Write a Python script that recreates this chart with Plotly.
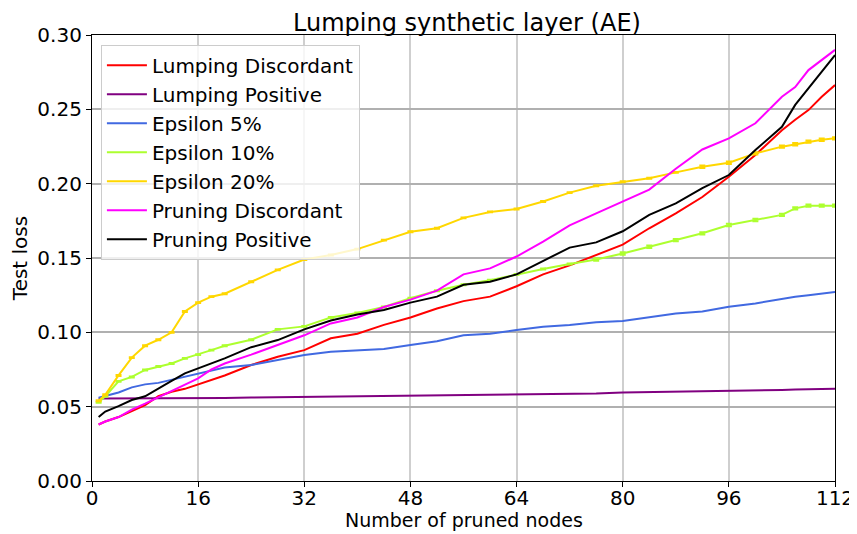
import plotly.graph_objects as go

nodes = [1, 2, 4, 6, 8, 10, 12, 14, 16, 18, 20, 24, 28, 32, 36, 40, 44, 48, 52, 56,
         60, 64, 68, 72, 76, 80, 84, 88, 92, 96, 100, 104, 106, 108, 110, 112]

lumping_discordant = [0.038, 0.040, 0.043, 0.047, 0.051, 0.057, 0.060, 0.062, 0.065, 0.068,
                      0.071, 0.078, 0.0836, 0.088, 0.096, 0.099, 0.105, 0.110, 0.116, 0.121,
                      0.124, 0.131, 0.139, 0.145, 0.152, 0.159, 0.170, 0.180, 0.191, 0.2047,
                      0.2193, 0.236, 0.243, 0.2495, 0.2585, 0.2663]
lumping_positive = [0.0555, 0.0555, 0.0555, 0.0555, 0.0556, 0.0556, 0.0556, 0.0557, 0.0557, 0.0558,
                    0.0559, 0.0561, 0.0563, 0.0565, 0.0566, 0.0567, 0.0569, 0.0571, 0.0573, 0.0576,
                    0.0578, 0.0580, 0.0582, 0.0585, 0.0588, 0.0595, 0.0598, 0.0600, 0.0601, 0.0602,
                    0.0605, 0.0612, 0.0615, 0.0617, 0.0619, 0.0620]
epsilon_5 = [0.056, 0.057, 0.0595, 0.063, 0.065, 0.066, 0.068, 0.070, 0.072, 0.074,
             0.0764, 0.078, 0.0814, 0.0848, 0.087, 0.0877, 0.0888, 0.0915, 0.094, 0.098,
             0.099, 0.1015, 0.1038, 0.105, 0.1067, 0.1076, 0.110, 0.1127, 0.114, 0.1172,
             0.1194, 0.1228, 0.124, 0.125, 0.126, 0.1272]
epsilon_10 = [0.053, 0.057, 0.067, 0.070, 0.0747, 0.077, 0.079, 0.0825, 0.085, 0.088,
              0.091, 0.095, 0.102, 0.104, 0.110, 0.113, 0.117, 0.123, 0.128, 0.132,
              0.135, 0.139, 0.1426, 0.146, 0.149, 0.153, 0.1576, 0.162, 0.1666, 0.1722,
              0.1756, 0.179, 0.1834, 0.1852, 0.1852, 0.1852]
epsilon_20 = [0.054, 0.058, 0.071, 0.083, 0.091, 0.095, 0.100, 0.114, 0.120, 0.124,
              0.126, 0.134, 0.142, 0.149, 0.152, 0.156, 0.162, 0.1677, 0.170, 0.177,
              0.181, 0.183, 0.188, 0.194, 0.1986, 0.2013, 0.2036, 0.2076, 0.2114, 0.2141,
              0.2204, 0.2249, 0.2265, 0.2283, 0.2295, 0.2305]
pruning_discordant = [0.038, 0.040, 0.043, 0.048, 0.052, 0.0562, 0.0608, 0.0646, 0.069, 0.075,
                      0.079, 0.085, 0.0915, 0.098, 0.106, 0.110, 0.117, 0.122, 0.128, 0.139,
                      0.143, 0.151, 0.161, 0.172, 0.180, 0.188, 0.196, 0.210, 0.223, 0.2305,
                      0.2406, 0.2585, 0.265, 0.2764, 0.283, 0.290]
pruning_positive = [0.043, 0.0467, 0.0504, 0.0545, 0.057, 0.0619, 0.0673, 0.0724, 0.0757, 0.0787,
                    0.0825, 0.090, 0.0948, 0.102, 0.108, 0.112, 0.115, 0.120, 0.124, 0.132,
                    0.134, 0.139, 0.148, 0.157, 0.1605, 0.168, 0.179, 0.1867, 0.197, 0.2058,
                    0.2226, 0.2383, 0.253, 0.264, 0.2753, 0.2865]

# small standard errors (visible mainly on the epsilon curves)
err_eps10 = [0.0003] * 24 + [0.0008] * 12
err_eps20 = [0.0003] * 28 + [0.0008] * 8

series = [
    ("Lumping Discordant", lumping_discordant, "#ff0000", None),
    ("Lumping Positive", lumping_positive, "#800080", None),
    ("Epsilon 5%", epsilon_5, "#4169e1", None),
    ("Epsilon 10%", epsilon_10, "#adff2f", err_eps10),
    ("Epsilon 20%", epsilon_20, "#ffd700", err_eps20),
    ("Pruning Discordant", pruning_discordant, "#ff00ff", None),
    ("Pruning Positive", pruning_positive, "#000000", None),
]

fig = go.Figure()
for name, vals, color, err in series:
    kw = {}
    if err is not None:
        kw["error_y"] = dict(type="data", array=err, color=color, thickness=2, width=3)
    fig.add_trace(go.Scatter(x=nodes, y=vals, mode="lines", name=name,
                             line=dict(color=color, width=2), **kw))

font = "DejaVu Sans, sans-serif"
fig.update_layout(
    width=849, height=526,
    margin=dict(l=84, r=22, t=27, b=53, autoexpand=False),
    plot_bgcolor="white", paper_bgcolor="white",
    font=dict(family=font, size=20, color="black"),
    title=dict(text="Lumping synthetic layer (AE)", x=0.5406, xanchor="center",
               y=0.9715, yanchor="middle", font=dict(size=24), automargin=False),
    legend=dict(x=0.012, y=0.978, xanchor="left", yanchor="top",
                bgcolor="rgba(255,255,255,0.8)", bordercolor="#cccccc", borderwidth=1,
                font=dict(size=20), itemwidth=40),
    showlegend=True,
    annotations=[dict(text="Number of pruned nodes", xref="paper", yref="paper",
                      x=0.5, y=-0.0885, xanchor="center", yanchor="middle",
                      showarrow=False, font=dict(size=19))],
)
fig.update_xaxes(range=[0, 112], tickvals=[0, 16, 32, 48, 64, 80, 96, 112],
                 showgrid=True, gridcolor="#cfcfcf", gridwidth=1.5,
                 showline=True, linecolor="black", linewidth=1.2, mirror=True,
                 ticks="outside", ticklen=5, tickcolor="black", automargin=False,
                 tickfont=dict(size=20), ticklabelstandoff=-6,
                 zeroline=False)
fig.update_yaxes(range=[0, 0.30], tickvals=[0, 0.05, 0.10, 0.15, 0.20, 0.25, 0.30],
                 tickformat=".2f",
                 showgrid=True, gridcolor="#b0b0b0", gridwidth=2,
                 showline=True, linecolor="black", linewidth=1.2, mirror=True,
                 ticks="outside", ticklen=5, tickcolor="black", automargin=False,
                 tickfont=dict(size=20),
                 title=dict(text="Test loss", standoff=8, font=dict(size=20)),
                 zeroline=False)

fig.write_html("out.html")
